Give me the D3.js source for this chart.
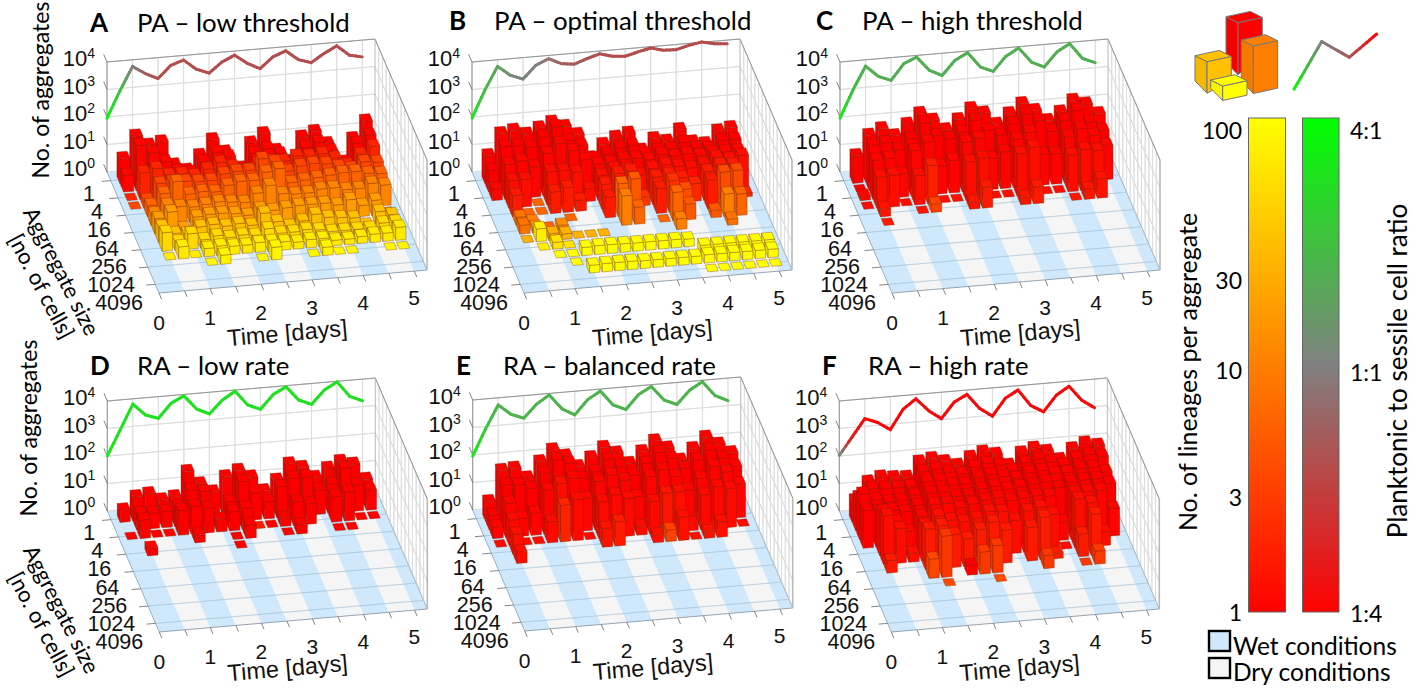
<!DOCTYPE html>
<html><head><meta charset="utf-8">
<script src="https://cdn.jsdelivr.net/npm/d3@7/dist/d3.min.js"></script>
<style>html,body{margin:0;padding:0;background:#fff}svg{display:block}</style>
</head><body><svg id="c" width="1419" height="688"></svg>
<script>
const _ = null;
const sizeLabels = ["1","4","16","64","256","1024","4096"];
const dayLabels = ["0","1","2","3","4","5"];
const decades = [0,1,2,3,4];
const panelTitles = ["PA – low threshold","PA – optimal threshold","PA – high threshold","RA – low rate","RA – balanced rate","RA – high rate"];
const panelLetters = ["A","B","C","D","E","F"];

// log10(number of aggregates) per time point (every 0.25 day); one sub-array per time point, entries by size bin
const barsA = [
[.89,.6,0,0],
[1.67,1.65,.97,.28,.41,.42,.56,.57,.68,0],
[1.3,1.33,1.08,.85,.8,.69,.76,.29,.3,.44],
[1.38,.97,.8,.87,1.19,.6,.12,.25,.56,0],
[.5,.6,.8,.85,.7,.55,.5,.45,.3,.3,0],
[.27,.5,.7,.8,.75,.6,.55,.5,.4,.35,.33],
[.77,.85,.9,.8,.7,.65,.55,.4,.3,.3],
[1.3,1.15,1.1,1.0,.9,.6,.5,.45,.35,.3],
[.81,.95,.9,1.05,1.0,.55,.4,.35,.3,.35,0],
[.1,.5,.7,1.05,1.0,.85,.6,.75,.5,.35,.46],
[1.06,1.0,.95,1.43,1.26,1.09,.5,.4,.3,.3],
[1.36,1.13,1.0,1.27,1.35,.75,.55,.2,.3,.25],
[.71,.9,.95,.9,.8,.7,.6,.35,.35,.3,0],
[.27,.5,1.1,1.05,.85,.7,.6,.55,.3,.3,.3],
[1.12,1.05,1.05,1.1,.9,.8,.6,.4,.2,.2,0],
[1.28,1.2,1.1,1.05,.95,.8,.5,.35,.2,.2,0],
[.8,.85,.9,.9,1.0,.7,.65,.3,.2,.25],
[.05,.4,.6,.8,1.0,.7,.4,0,.2,.3],
[.9,1.05,.95,1.0,.9,.85,.55,.45,.35,.3,0],
[1.5,1.3,1.2,.95,.85,.75,0,.3,.35,.47,0]];
const barsB = [
[1.0,.78,.42],
[1.76,1.6,1.27,1.0,.77,.3,.32,0],
[1.84,1.6,1.35,1.0,0,.1,.2,.46,0],
[1.66,1.5,1.1,0,0,_,.1,.25,.25,0],
[1.85,1.83,1.55,1.2,.78,_,.2,.2,0,0,0],
[2.02,2.16,1.87,1.2,.9,0,_,0,_,.3,_,.28],
[1.82,1.62,1.57,1.1,.4,_,_,0,_,.32,_,.3],
[1.49,1.4,1.2,.46,_,_,_,0,_,.32,_,.3],
[.6,.9,1.0,.9,.9,.75,_,_,_,.31,_,.3],
[1.05,1.0,1.0,1.1,1.25,1.2,1.07,_,_,.3,_,.28],
[1.27,1.2,1.1,1.05,1.3,1.33,.62,_,_,.3,_,.28],
[1.38,1.25,1.1,.8,.32,_,_,_,_,.3,_,.28],
[.72,.9,1.0,1.0,1.0,.9,0,_,_,.3,_,.28],
[1.1,1.0,1.15,1.1,1.05,1.15,1.04,.39,_,.28,_,.28],
[.97,1.0,1.05,1.0,.9,.8,.57,_,_,_,.33,.3,0],
[1.35,1.2,1.1,.9,.64,_,_,_,_,_,.33,.3,0],
[.86,.95,1.0,1.0,1.05,1.04,.26,_,_,_,.33,.3,0],
[.76,.9,1.05,1.2,1.25,1.3,.82,.22,_,_,.33,.3,0],
[1.18,1.15,1.05,1.1,1.2,1.32,.78,_,_,_,.33,.3,0],
[1.26,1.15,1.05,1.2,.12,_,_,_,_,_,.33,.3,0]];
const barsC = [
[1.0,0,.15,0],
[1.7,1.65,1.42,1.13,.3,0],
[1.9,1.7,1.45,1.15],
[1.6,1.4,.85,0],
[1.98,1.77,1.65,1.06,0],
[2.33,2.3,1.93,1.39,.3],
[2.05,1.8,1.0,0],
[1.66,1.65,1.18,0],
[1.99,1.85,1.8,1.4,.25],
[2.35,2.24,1.9,1.5,.76],
[2.15,1.84,1.13,0],
[1.7,1.62,1.33,0],
[2.05,2.0,1.75,1.53,.27],
[2.37,2.3,1.96,1.73,.6],
[2.08,2.03,1.13,0],
[1.68,1.6,1.1,0],
[1.95,1.96,1.67,1.33,0],
[2.33,2.28,1.93,1.5,.37],
[2.16,1.82,1.65,1.42,.7],
[1.77,1.47,1.24]];
const barsD = [
[.44,_,0],
[.88,.59,.67,_,.27],
[.95,.56,0],
[.69,.58,0],
[.76,.7,.9],
[1.64,1.28,1.0,.28],
[1.15,1.19,.9],
[.82,_,.46],
[1.33,.74,.69,0,0],
[1.52,1.43,.78,.48],
[1.24,.97,0],
[.7,.62,0],
[1.05,1.13,.29,0],
[1.6,1.39,.86,.33],
[1.43,1.4,.74],
[1.03,.88],
[1.32,1.07,.92,0],
[1.53,1.59,1.05,0],
[1.39,.95,0],
[.8,.73,0]];
const barsE = [
[.71,.53,.42,0],
[1.8,1.59,1.24,.95,.75,.42],
[1.84,1.55,.65,0],
[1.45,1.39,.8,0],
[2.0,1.89,1.6,.76],
[2.39,2.34,1.8,1.33],
[2.13,2.18,1.95,1.48],
[1.7,1.59,1.18,0],
[1.99,1.79,1.75,1.33,.68],
[2.32,2.2,1.95,1.54,.88],
[2.08,1.89,1.72,1.37],
[1.66,1.55,1.08,.3],
[2.05,1.94,1.77,1.18,.28],
[2.4,2.29,1.98,1.44,.42],
[2.1,2.04,1.7,1.45,.85],
[1.62,1.64,1.16,.27,0],
[2.0,1.9,1.55,1.26,.24],
[2.37,2.22,1.93,1.52,.56],
[2.08,1.88,1.7,1.42],
[1.73,1.54,1.22,0]];
const barsF = [
[.79,1.22,1.66,1.37],
[1.42,1.49,1.4,1.3,1.6,1.77,.45],
[1.56,1.45,1.28,1.3,1.2,1.26],
[1.5,1.45,1.3,1.2,.8,.32],
[1.47,1.45,1.45,1.4,1.3,1.3,1.47,.7],
[1.99,1.95,1.9,1.8,1.7,1.6,1.56,1.5,0],
[2.07,2.0,1.9,1.8,1.7,1.4,1.2],
[1.92,1.85,1.7,1.6,1.5,1.3,1.0,.35],
[1.75,1.75,1.7,1.6,1.6,1.4,1.3,.8],
[2.0,1.95,1.9,1.8,1.7,1.6,1.53,.99,0],
[2.15,2.05,1.95,1.85,1.75,1.55,1.2],
[2.03,1.95,1.85,1.7,1.6,1.2],
[1.59,1.7,1.75,1.75,1.65,1.5,1.22],
[2.0,1.95,1.9,1.8,1.7,1.6,1.55,.47],
[2.13,2.05,1.95,1.85,1.65,1.3,.2],
[1.98,1.9,1.8,1.6,.67,0],
[1.64,1.75,1.8,1.75,1.7,1.78,.82,0],
[1.99,1.95,1.9,1.8,1.7,1.6,1.5,.48],
[2.16,2.05,1.9,1.8,1.7,.5],
[2.04,1.95,1.7,1.6,1.0]];

// lineage colour position (0 red .. 1 yellow) per size bin, with cell overrides [time point, bin, value]
const lineageA = [0,.02,.14,.28,.4,.52,.62,.76,.86,.93,.97,1,1];
const lineageB = [0,0,.02,.05,.1,.3,.4,.7,.9,1,1,1,1];
const lineageC = [0,0,.02,.05,.08,.1,.1,.1,.1,.1,.1,.1,.1];
const lineageD = [0,0,0,0,0,0,0,0,0,0,0,0,0];
const lineageE = [0,0,.02,.04,.06,.05,.05,.05,.05,.05,.05,.05,.05];
const lineageF = [0,0,0,0,.02,.05,.1,.22,.3,.3,.3,.3,.3];
const overrideA = [];
const overrideB = [[3,4,.4],[4,3,.4],[4,4,.4],[6,5,.4],[13,6,.4],[2,5,.45],[2,6,.45],[2,7,.7],[5,6,.55],[3,5,.5],[3,6,.6],[3,7,.95],[3,8,.95],
 [10,6,.5],[10,5,.4],[11,5,.35],[11,6,.4],[12,4,.2],[9,5,.1],[13,5,.1],[14,5,.2],[14,6,.4],[14,7,.5],[15,6,.35],[16,4,.15],[17,5,.1],[17,6,.35],[18,5,.3],[18,6,.5],[18,7,.45],[19,5,.3],[19,6,.4],[20,4,.15],[5,8,.9],[6,7,.7],[7,7,.7],[8,7,.7],[5,4,.1],[6,4,.1]];
const overrideC = [[6,3,.12],[6,4,.26],[10,4,.1],[14,4,.1],[14,3,.06],[10,3,.05]];
const overrideD = [[11,2,.1]];
const overrideE = [[6,3,.14],[14,4,.26],[6,2,.05],[14,3,.08],[9,4,.07],[10,4,.1],[15,3,.06]];
const overrideF = [[8,7,0],[5,7,.28]];

// log10(total aggregates) per 0.25 day
const lineA = [1.96,2.9,3.76,3.46,3.24,3.68,3.83,3.46,3.28,3.64,3.85,3.51,3.28,3.67,3.85,3.49,3.34,3.63,3.87,3.49,3.39];
const lineB = [1.96,2.93,3.76,3.40,3.22,3.68,3.88,3.66,3.60,3.76,3.90,3.77,3.73,3.85,3.95,3.83,3.81,3.93,4.01,3.91,3.87];
const lineC = [1.96,2.93,3.77,3.36,3.17,3.74,3.94,3.42,3.19,3.70,3.94,3.38,3.18,3.69,3.95,3.40,3.18,3.69,3.95,3.37,3.18];
const lineD = [2.0,2.9,3.81,3.37,3.21,3.72,3.95,3.43,3.21,3.67,3.96,3.42,3.22,3.72,3.96,3.44,3.24,3.72,3.98,3.41,3.21];
const lineE = [1.96,2.9,3.74,3.36,3.18,3.65,3.94,3.4,3.14,3.65,3.93,3.38,3.18,3.68,3.93,3.4,3.2,3.68,3.95,3.4,3.18];
const lineF = [2.02,2.65,3.28,3.1,2.8,3.5,3.84,3.37,3.04,3.6,3.84,3.29,2.97,3.58,3.84,3.24,2.97,3.53,3.82,3.27,2.96];
// planktonic:sessile colour position (0 red, .5 grey, 1 green) per 0.25 day
const ratioA = [1,.75,.5,.35,.3,.3,.3,.3,.3,.3,.3,.3,.3,.3,.3,.3,.3,.3,.3,.3,.3];
const ratioB = [.95,.72,.65,.55,.52,.5,.45,.38,.35,.33,.32,.3,.3,.3,.3,.3,.3,.3,.3,.3,.3];
const ratioC = [.95,.75,.68,.68,.68,.68,.68,.68,.68,.68,.68,.68,.68,.68,.68,.68,.68,.68,.68,.68,.68];
const ratioD = [.95,.88,.88,.88,.88,.88,.88,.88,.88,.88,.88,.88,.88,.88,.88,.88,.88,.88,.88,.88,.88];
const ratioE = [.95,.8,.7,.7,.7,.7,.7,.7,.7,.7,.7,.7,.7,.7,.7,.7,.7,.7,.7,.7,.7];
const ratioF = [.6,.08,.03,.03,.03,.03,.03,.03,.03,.03,.03,.03,.03,.03,.03,.03,.03,.03,.03,.03,.03];

const lineageTicks = [["100",0],["30",.26],["10",.5],["3",.76],["1",1]];
const ratioTicks = [["4:1",0],["1:1",.5],["1:4",1]];
const iconRatio = [1,.5,.35,0];
const iconX = [0,27.7,55.3,82.7];
const iconY = [0,-47.7,-32,-55.3];

const barsAll=[barsA,barsB,barsC,barsD,barsE,barsF];
const linAll=[lineageA,lineageB,lineageC,lineageD,lineageE,lineageF];
const ovAll=[overrideA,overrideB,overrideC,overrideD,overrideE,overrideF];
const lineAll=[lineA,lineB,lineC,lineD,lineE,lineF];
const ratioAll=[ratioA,ratioB,ratioC,ratioD,ratioE,ratioF];
const origins=[[107,172],[472,172],[840,172],[107.3,511],[472.7,510],[839.3,511]];
const titleX=[137,494,862,137,503,868], letterX=[90,449,816,90,456,822], titleY=[32,30,30,375,375,375];

const svg=d3.select("#c");
const defs=svg.append("defs");
const ARIAL="'Liberation Sans',Arial,sans-serif", LATO="Lato,'Noto Sans',sans-serif";
const tx=d3.scaleLinear([0,21],[0,268]), ty=d3.scaleLinear([0,21],[0,-23]);
const sx=d3.scaleLinear([0,14],[0,52]), sy=d3.scaleLinear([0,14],[0,121]);
const zy=d3.scaleLinear([0,4],[0,-110]);
const lineageColor=d3.scaleLinear([0,1],["#ff0000","#ffff00"]);
const ratioColor=d3.scaleLinear([0,.5,1],["#ff0000","#808080","#00ff00"]);
const poly=pts=>"M"+pts.map(p=>p[0].toFixed(2)+","+p[1].toFixed(2)).join("L")+"Z";

function panel(i){
  const [ox,oy]=origins[i];
  const P=(t,s,z=0)=>[ox+tx(t)+sx(s),oy+ty(t)+sy(s)+zy(z)];
  const g=svg.append("g");
  const T=21,S=14;
  for(let t=0;t<T;t+=2){
    const t1=Math.min(t+2,T);
    g.append("path").attr("d",poly([P(t,0),P(t1,0),P(t1,S),P(t,S)]))
      .attr("fill",(t/2)%2==0?"#cfe8fb":"#f5f5f5");
  }
  for(let s=1;s<=13;s+=2) g.append("path").attr("d",poly([P(0,s),P(T,s)])).attr("fill","none").attr("stroke","#9dbcd2").attr("stroke-opacity",.55).attr("stroke-width",.7);
  g.append("path").attr("d",poly([P(0,0),P(T,0),P(T,0,4),P(0,0,4)])).attr("fill","#fff");
  g.append("path").attr("d",poly([P(T,0),P(T,S),P(T,S,4),P(T,0,4)])).attr("fill","#fff");
  const grid=(a,b)=>g.append("path").attr("d",poly([a,b])).attr("fill","none").attr("stroke","#dcdcdc").attr("stroke-width",.9);
  decades.forEach(z=>{grid(P(0,0,z),P(T,0,z));grid(P(T,0,z),P(T,S,z));});
  for(let t=0;t<=T;t+=2) grid(P(t,0,0),P(t,0,4));
  for(let s=1;s<=13;s++) grid(P(T,s,0),P(T,s,4));
  const edge=(a,b,c="#8c8c8c",w=.9)=>g.append("line").attr("x1",a[0]).attr("y1",a[1]).attr("x2",b[0]).attr("y2",b[1]).attr("stroke",c).attr("stroke-width",w);
  edge(P(0,0,0),P(0,0,4));edge(P(0,0,4),P(T,0,4));edge(P(T,0,4),P(T,S,4));edge(P(T,0,0),P(T,0,4),"#b0b0b0");edge(P(T,S,0),P(T,S,4),"#b8b8b8",1.6);
  edge(P(0,0),P(0,S),"#8fa8ba");edge(P(0,S),P(T,S),"#8c9aa5");edge(P(T,0),P(T,S),"#9fb6c6");
  decades.forEach(z=>edge(P(0,0,z),P(0,-.9,z),"#666",.8));
  for(let t=0;t<=T;t+=2) edge(P(t,S),P(t,S+.7),"#666",.8);
  for(let s=1;s<=13;s+=2) edge(P(0,s),P(-.7,s),"#666",.8);
  const L=lineAll[i],R=ratioAll[i];
  for(let k=0;k<L.length-1;k++){
    const a=P(k,0,L[k]),b=P(k+1,0,L[k+1]);
    for(let q=0;q<4;q++){
      const u0=q/4,u1=(q+1)/4,um=(u0+u1)/2;
      g.append("line").attr("x1",a[0]+(b[0]-a[0])*u0).attr("y1",a[1]+(b[1]-a[1])*u0)
       .attr("x2",a[0]+(b[0]-a[0])*u1).attr("y2",a[1]+(b[1]-a[1])*u1)
       .attr("stroke",ratioColor(R[k]+(R[k+1]-R[k])*um)).attr("stroke-width",3).attr("stroke-linecap","round");
    }
  }
  const B=barsAll[i],LN=linAll[i],OV=ovAll[i];
  for(let r=0;r<13;r++){
    for(let c=B.length-1;c>=0;c--){
      const h=B[c][r];
      if(h===null||h===undefined) continue;
      const k=c+1,j=r+1,a=k-.4,b=k+.4,n=j-.4,f=j+.4;
      const o=OV.find(v=>v[0]===k&&v[1]===r);
      const col=lineageColor(o?o[2]:LN[r]);
      const st="rgba(110,35,0,.6)";
      const left=d3.rgb(col).darker(.25),front=d3.rgb(col).darker(.03);
      if(h>0){
        g.append("path").attr("d",poly([P(a,n,0),P(a,f,0),P(a,f,h),P(a,n,h)])).attr("fill",left).attr("stroke",st).attr("stroke-width",.55);
        g.append("path").attr("d",poly([P(a,f,0),P(b,f,0),P(b,f,h),P(a,f,h)])).attr("fill",front).attr("stroke",st).attr("stroke-width",.55);
      }
      g.append("path").attr("d",poly([P(a,n,h),P(b,n,h),P(b,f,h),P(a,f,h)])).attr("fill",col).attr("stroke",st).attr("stroke-width",.55);
    }
  }
  decades.forEach(z=>{
    const t=g.append("text").attr("x",ox-12).attr("y",oy+4-z*27.5).attr("text-anchor","end").attr("font-family",ARIAL).attr("font-size",22).attr("fill","#111");
    t.append("tspan").text("10");
    t.append("tspan").attr("dy",-8).attr("font-size",14).text(z);
  });
  sizeLabels.forEach((s,q)=>{
    g.append("text").attr("x",ox-12+8*q).attr("y",oy+29+18.2*q).attr("text-anchor","end").attr("font-family",ARIAL).attr("font-size",21.5).attr("fill","#111").text(s);
  });
  dayLabels.forEach((s,q)=>{
    g.append("text").attr("x",ox+52+51*q).attr("y",oy+158-5*q).attr("text-anchor","middle").attr("font-family",ARIAL).attr("font-size",21).attr("fill","#111").text(s);
  });
  g.append("text").attr("transform",`translate(${ox+181},${oy+(i<3?169:165)}) rotate(-5)`).attr("text-anchor","middle").attr("font-family",ARIAL).attr("font-size",23.5).attr("fill","#111").text("Time [days]");
  svg.append("text").attr("x",letterX[i]).attr("y",titleY[i]).attr("font-family",LATO).attr("font-weight",700).attr("font-size",26).attr("fill","#000").text(panelLetters[i]);
  svg.append("text").attr("x",titleX[i]).attr("y",titleY[i]).attr("font-family",LATO).attr("font-size",25.8).attr("fill","#000").text(panelTitles[i]);
  if(i==0||i==3){
    const yy=i==0?0:338, xa=i==0?40:28;
    svg.append("text").attr("transform",`translate(${xa},${90+yy}) rotate(-90)`).attr("text-anchor","middle").attr("dominant-baseline","central").attr("font-family",LATO).attr("font-size",23).attr("fill","#000").text("No. of aggregates");
    svg.append("text").attr("transform",`translate(62,${271+yy}) rotate(63)`).attr("text-anchor","middle").attr("dominant-baseline","central").attr("font-family",LATO).attr("font-size",22).attr("fill","#000").text("Aggregate size");
    svg.append("text").attr("transform",`translate(42,${286+yy}) rotate(62)`).attr("text-anchor","middle").attr("dominant-baseline","central").attr("font-family",LATO).attr("font-size",22).attr("fill","#000").text("[no. of cells]");
  }
}
d3.range(6).forEach(panel);

const grad=(id,stops)=>{const g=defs.append("linearGradient").attr("id",id).attr("x1",0).attr("y1",0).attr("x2",0).attr("y2",1);
  stops.forEach(([o,c])=>g.append("stop").attr("offset",o).attr("stop-color",c));};
grad("gl",[[0,lineageColor(1)],[1,lineageColor(0)]]);
grad("gr",[[0,ratioColor(1)],[.5,ratioColor(.5)],[1,ratioColor(0)]]);
const barY=d3.scaleLinear([0,1],[118,612]);
svg.append("rect").attr("x",1248.5).attr("y",barY(0)).attr("width",37).attr("height",barY(1)-barY(0)).attr("fill","url(#gl)").attr("stroke","#666");
svg.append("rect").attr("x",1302.5).attr("y",barY(0)).attr("width",36.5).attr("height",barY(1)-barY(0)).attr("fill","url(#gr)").attr("stroke","#666");
const lab=(x,y,t,a,fs=23)=>svg.append("text").attr("x",x).attr("y",y).attr("text-anchor",a).attr("dominant-baseline","central").attr("font-family",LATO).attr("font-size",fs).attr("fill","#000").text(t);
lineageTicks.forEach(([t,v],q)=>lab(1242,q==0?130:(q==4?612:[280,370,497][q-1]),t,"end"));
ratioTicks.forEach(([t,v],q)=>lab(1350,[130,372,613][q],t,"start"));
svg.append("text").attr("transform","translate(1187,372) rotate(-90)").attr("text-anchor","middle").attr("dominant-baseline","central").attr("font-family",LATO).attr("font-size",25).attr("fill","#000").text("No. of lineages per aggregate");
svg.append("text").attr("transform","translate(1397,371) rotate(-90)").attr("text-anchor","middle").attr("dominant-baseline","central").attr("font-family",LATO).attr("font-size",26).attr("fill","#000").text("Planktonic to sessile cell ratio");
[["#cfe8fb",631,"Wet conditions",645],["#f5f5f5",658,"Dry conditions",671]].forEach(([c,y,t,ty2])=>{
  svg.append("rect").attr("x",1209).attr("y",y).attr("width",21).attr("height",20).attr("fill",c).attr("stroke","#000").attr("stroke-width",2.4);
  lab(1233,ty2,t,"start",24.5);
});
function box(ix,iy,w,h,col){
  const st="#777";
  const a=[ix,iy],b=[ix+12,iy+6],c=[ix+12+24.3,iy+6-5.3],e=[ix+24.3,iy-5.3];
  const b2=[b[0],b[1]+h],c2=[c[0],c[1]+h*w],a2=[a[0],a[1]+h-6.2];
  svg.append("path").attr("d",poly([a,b,b2,a2])).attr("fill",d3.rgb(col).darker(.12)).attr("stroke",st);
  svg.append("path").attr("d",poly([b,c,c2,b2])).attr("fill",col).attr("stroke",st);
  svg.append("path").attr("d",poly([a,e,c,b])).attr("fill",col).attr("stroke",st);
}
box(1226,16.7,.72,52,"#ff0000");
box(1241.3,40,1,47.5,"#ff8000");
box(1195,55.7,.75,31.5,"#ffc000");
box(1210.7,80,1,14.5,"#ffff00");
const ix0=1294,iy0=89.3;
for(let k=0;k<3;k++){
  for(let q=0;q<8;q++){
    const u0=q/8,u1=(q+1)/8,um=(u0+u1)/2;
    svg.append("line").attr("x1",ix0+iconX[k]+(iconX[k+1]-iconX[k])*u0).attr("y1",iy0+iconY[k]+(iconY[k+1]-iconY[k])*u0)
      .attr("x2",ix0+iconX[k]+(iconX[k+1]-iconX[k])*u1).attr("y2",iy0+iconY[k]+(iconY[k+1]-iconY[k])*u1)
      .attr("stroke",ratioColor(iconRatio[k]+(iconRatio[k+1]-iconRatio[k])*um)).attr("stroke-width",3).attr("stroke-linecap","round");
  }
}
</script></body></html>
